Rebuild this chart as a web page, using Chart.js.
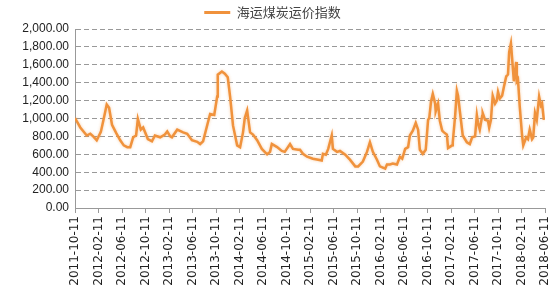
<!DOCTYPE html>
<html>
<head>
<meta charset="utf-8">
<script src="https://cdn.jsdelivr.net/npm/chart.js@4/dist/chart.umd.min.js"></script>
<style>
  html, body { margin: 0; padding: 0; background: #fff; }
  #wrap { width: 550px; height: 300px; }
</style>
</head>
<body>
<div id="wrap"><canvas id="c"></canvas></div>
<script>
// 月份偏移 (从 2011-10-11 起算)
const months = [
  0, 0.9, 2.0, 2.6, 3.1, 3.7, 4.4, 4.9, 5.4, 5.8, 6.3, 7.0, 7.7, 8.3, 8.9, 9.4, 9.9, 10.4, 10.7, 11.2,
  11.6, 12.4, 13.1, 13.6, 14.5, 15.3, 15.7, 16.2, 16.5, 17.4, 18.4, 19.1, 19.9, 20.8, 21.3, 21.8, 22.6, 23.0, 23.7, 24.2,
  24.3, 25.0, 25.5, 26.0, 26.4, 26.9, 27.6, 28.1, 28.6, 28.9, 29.3, 29.8, 30.3, 31.0, 31.8, 32.7, 33.2, 33.5, 34.4, 35.2,
  35.7, 36.6, 37.1, 38.0, 38.3, 38.8, 39.5, 40.5, 41.4, 42.0, 42.2, 42.7, 43.1, 43.7, 43.9, 44.6, 45.1, 46.0, 46.8, 47.7,
  48.2, 49.0, 49.7, 50.2, 50.7, 51.4, 51.9, 52.8, 53.1, 53.6, 54.1, 54.8, 55.3, 55.7, 56.2, 56.7, 57.0, 57.5, 58.0, 58.4,
  58.7, 59.2, 59.7, 60.1, 60.3, 60.6, 60.9, 61.3, 61.4, 61.8, 62.1, 62.5, 62.8, 63.3, 63.5, 64.2, 64.3, 64.7, 65.0, 65.2,
  65.7, 66.0, 66.7, 67.2, 67.6, 68.1, 68.4, 68.6, 68.9, 69.3, 69.4, 69.8, 70.3, 70.5, 70.8, 71.1, 71.5, 71.8, 72.0, 72.3,
  72.7, 73.0, 73.4, 73.7, 73.9, 74.2, 74.4, 74.7, 75.1, 75.2, 75.4, 75.7, 76.1, 76.3, 76.8, 77.1, 77.4, 77.8, 78.0, 78.3,
  78.6, 79.0, 79.3, 79.5, 79.8
];

// 海运煤炭运价指数
const indexValues = [
  1005, 900, 810, 830, 800, 757, 850, 1000, 1157, 1120, 930, 840, 757, 700, 680, 680, 790, 810, 995, 875,
  900, 770, 745, 810, 790, 820, 855, 800, 790, 875, 845, 830, 757, 740, 715, 745, 950, 1050, 1040, 1245,
  1490, 1525, 1500, 1460, 1245, 920, 700, 680, 845, 1005, 1090, 845, 820, 757, 660, 600, 627, 715, 680, 637,
  627, 715, 660, 650, 650, 605, 573, 551, 540, 530, 605, 595, 660, 810, 660, 627, 637, 595, 540, 465,
  465, 519, 627, 735, 627, 540, 465, 440, 486, 486, 497, 486, 573, 551, 660, 680, 810, 865, 950, 875,
  650, 605, 650, 985, 1005, 1190, 1275, 1167, 1080, 1167, 975, 865, 845, 820, 670, 700, 735, 1027, 1308, 1254,
  975, 810, 735, 715, 790, 800, 1038, 950, 875, 1027, 1060, 985, 975, 897, 985, 1254, 1167, 1200, 1297, 1222,
  1254, 1351, 1470, 1492, 1740, 1838, 1675, 1416, 1632, 1416, 1438, 1135, 810, 700, 790, 770, 875, 770, 790, 1060,
  985, 1245, 1146, 1167, 985
];

// 横轴刻度标签 (每 4 个月)
const tickLabels = [
  '2011-10-11', '2012-02-11', '2012-06-11', '2012-10-11', '2013-02-11', '2013-06-11', '2013-10-11',
  '2014-02-11', '2014-06-11', '2014-10-11', '2015-02-11', '2015-06-11', '2015-10-11', '2016-02-11',
  '2016-06-11', '2016-10-11', '2017-02-11', '2017-06-11', '2017-10-11', '2018-02-11', '2018-06-11'
];

const seriesName = '海运煤炭运价指数';
const lineColor = '#F0923C';

const points = months.map((m, i) => ({ x: m, y: indexValues[i] }));

// 线条外发光
const glowPlugin = {
  id: 'glow',
  beforeDatasetsDraw(chart) {
    const ctx = chart.ctx;
    ctx.save();
    ctx.shadowColor = 'rgba(240,146,60,0.45)';
    ctx.shadowBlur = 3;
  },
  afterDatasetsDraw(chart) {
    chart.ctx.restore();
  }
};

new Chart(document.getElementById('c'), {
  type: 'line',
  data: {
    datasets: [{
      label: seriesName,
      data: points,
      borderColor: lineColor,
      backgroundColor: lineColor,
      borderWidth: 2.5,
      pointRadius: 0,
      tension: 0,
      fill: false
    }]
  },
  options: {
    responsive: true,
    maintainAspectRatio: false,
    animation: false,
    layout: { padding: { left: 0, right: 5, top: 2, bottom: 0 } },
    plugins: {
      legend: {
        display: true,
        position: 'top',
        labels: {
          boxWidth: 26,
          boxHeight: 3,
          padding: 4,
          color: '#444',
          font: { family: '"Noto Sans CJK SC", sans-serif', size: 13, weight: 'normal' },
          // 图例只画一条细线, 不要描边
          generateLabels(chart) {
            const items = Chart.defaults.plugins.legend.labels.generateLabels(chart);
            items.forEach(it => { it.lineWidth = 0; });
            return items;
          }
        }
      },
      tooltip: { enabled: false }
    },
    scales: {
      x: {
        type: 'linear',
        min: 0,
        max: 80,
        afterFit(scale) {
          scale.height = 92;
          scale.paddingLeft = 0;
          scale.paddingRight = 0;
        },
        ticks: {
          stepSize: 4,
          autoSkip: false,
          maxRotation: 90,
          minRotation: 90,
          padding: 3,
          color: '#222',
          font: { family: '"DejaVu Sans", sans-serif', size: 12 },
          callback: (v) => tickLabels[Math.round(v / 4)]
        },
        grid: {
          drawOnChartArea: false,
          drawTicks: true,
          tickLength: 5,
          color: '#999'
        },
        border: { color: '#999', width: 1 }
      },
      y: {
        min: 0,
        max: 2000,
        afterFit(scale) { scale.width = 75; },
        ticks: {
          stepSize: 200,
          padding: 6,
          color: '#222',
          font: { family: '"Liberation Sans", sans-serif', size: 12 },
          callback: (v) => v.toLocaleString('en-US', { minimumFractionDigits: 2, maximumFractionDigits: 2 })
        },
        grid: {
          color: (ctx) => ctx.tick && ctx.tick.value === 0 ? 'rgba(0,0,0,0)' : '#999',
          drawTicks: false
        },
        border: { color: '#999', width: 1, dash: [5, 3] }
      }
    }
  },
  plugins: [glowPlugin]
});
</script>
</body>
</html>
